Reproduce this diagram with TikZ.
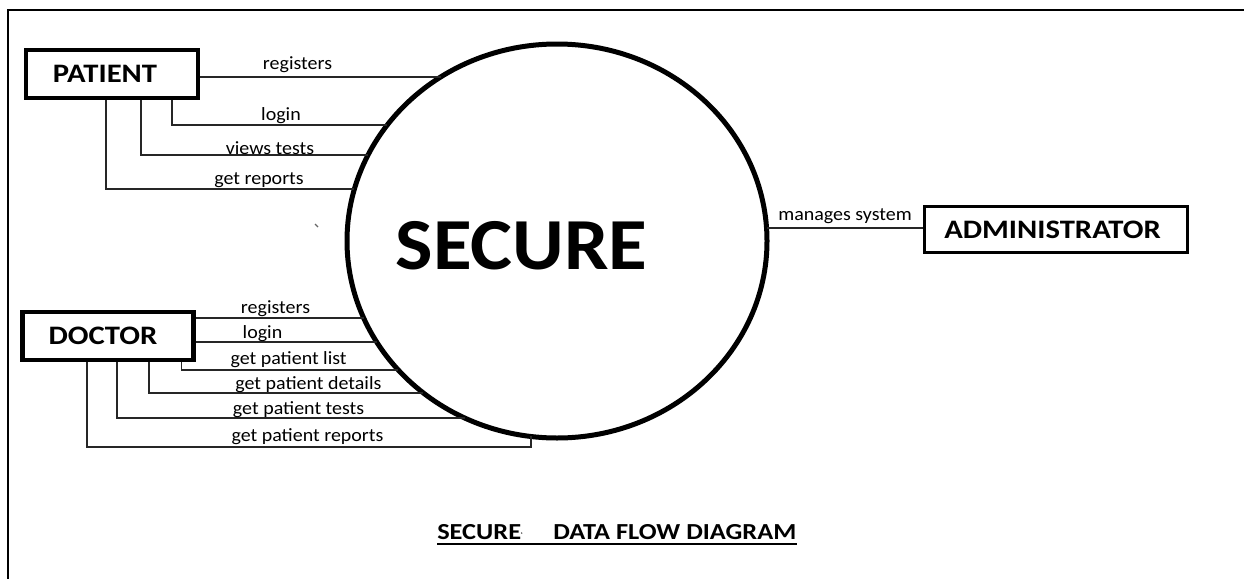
\documentclass[tikz,border=0pt]{standalone}
\usepackage{fontspec}
\setmainfont{Carlito}[FakeStretch=1.07]
\newfontfamily\wideface{Carlito}[FakeStretch=1.15]
\newfontfamily\bigface{Carlito}[FakeStretch=1.08]
\usetikzlibrary{shapes.geometric,calc}

% point on the left half of the process ellipse at a given height
\newcommand\onleft[2]{%
  \pgfmathsetmacro\edgex{557-210*sqrt(1-((#2-241)/197)^2)}%
  \coordinate (#1) at (\edgex,#2);}

\begin{document}
\begin{tikzpicture}[x=0.75pt,y=-0.75pt,
  flow/.style={draw=black!85, line width=0.8pt},
  lbl/.style={inner sep=0pt, font=\fontsize{14}{16}\selectfont},
  entity/.style={draw, line width=3.3pt, inner sep=0pt,
    font=\wideface\bfseries\fontsize{20}{24}\selectfont},
  caption/.style={inner sep=0pt, anchor=base west,
    font=\wideface\bfseries\fontsize{17.2}{20}\selectfont},
]
\useasboundingbox (0,0) rectangle (1244,578);

% page frame
\draw[line width=1.5pt] (1250,10) -- (8,10) -- (8,590);

% central process
\node[ellipse, draw, line width=3.75pt, minimum width=315pt,
      minimum height=295.5pt, inner sep=0pt] (sec) at (557,241) {};
\node[inner sep=0pt, font=\bigface\bfseries\fontsize{55}{60}\selectfont] (sectxt)
      at (521.5,245.5) {SECURE};

% external entities
\node[entity, minimum width=128.7pt, minimum height=35.7pt] (patient)
      at (112,74) {\kern-10.5pt PATIENT};
\node[entity, minimum width=128pt, minimum height=35.7pt] (doctor)
      at (108,336) {\kern-7.5pt\raisebox{-2.25pt}{DOCTOR}};
\node[entity, line width=2.25pt, minimum width=197.25pt, minimum height=34.5pt]
      (admin) at (1056,229.5) {\kern-5.25pt\raisebox{-1.5pt}{ADMINISTRATOR}};

% patient flows
\onleft{p1}{77}
\onleft{p2}{125}
\onleft{p3}{155}
\onleft{p4}{189}
\draw[flow] (patient.east |- p1) -- (p1);
\draw[flow] ($(patient.south)+(60,0)$) |- (p2);
\draw[flow] ($(patient.south)+(29,0)$) |- (p3);
\draw[flow] ($(patient.south)+(-6,0)$) |- (p4);
\node[lbl] (lp1) at (297.5,65) {registers};
\node[lbl] (lp2) at (281,116) {login};
\node[lbl] (lp3) at (270,148) {views tests};
\node[lbl] (lp4) at (259,180) {get reports};

% doctor flows
\onleft{d1}{318}
\onleft{d2}{342}
\onleft{d3}{370}
\onleft{d4}{393}
\onleft{d5}{418}
\pgfmathsetmacro\edgey{241+197*sqrt(1-((531-557)/210)^2)}
\coordinate (d6e) at (531,\edgey);
\coordinate (d6c) at (531,447);
\draw[flow] (doctor.east |- d1) -- (d1);
\draw[flow] (doctor.east |- d2) -- (d2);
\draw[flow] ($(doctor.south)+(73.4,0)$) |- (d3);
\draw[flow] ($(doctor.south)+(41,0)$) |- (d4);
\draw[flow] ($(doctor.south)+(9,0)$) |- (d5);
\draw[flow] ($(doctor.south)+(-21,0)$) |- (d6c) -- (d6e);
\node[lbl] (ld1) at (275.5,309) {registers};
\node[lbl] (ld2) at (262.5,334) {login};
\node[lbl] (ld3) at (288.6,360) {get patient list};
\node[lbl] (ld4) at (308.4,385) {get patient details};
\node[lbl] (ld5) at (298.6,409.5) {get patient tests};
\node[lbl] (ld6) at (307.5,436.5) {get patient reports};

% administrator flow
\pgfmathsetmacro\edgex{557+210*sqrt(1-((228-241)/197)^2)}
\coordinate (a1) at (\edgex,228);
\draw[flow] (a1) -- (admin.west |- a1);
\node[lbl] (la1) at (845,216) {manages system};

% stray pen mark
\draw[black!60, line width=0.8pt] (315,224) -- (318,227);

% caption
\node[caption] (cap1) at (437,539) {SECURE};
\node[caption] (cap2) at (553,539) {DATA FLOW DIAGRAM};
\fill[black!70] (521.7,533) circle (0.6pt);
\draw[line width=1.5pt] ($(cap1.base west)+(0,4.5)$) -- ($(cap2.base east)+(0,4.5)$);
\end{tikzpicture}
\end{document}
